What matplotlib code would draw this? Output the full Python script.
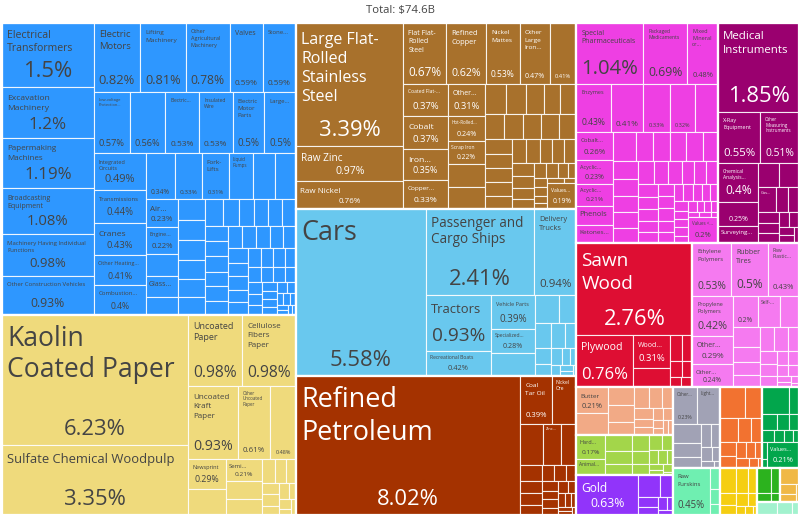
#!/usr/bin/env python3
"""
Treemap of exports by product (share of total, %), total $74.6B.
Sectors are laid out with the same squarify row logic as d3, products inside each sector.
"""
import math
import re
import matplotlib
matplotlib.use("Agg")
import matplotlib.pyplot as plt
from matplotlib.patches import Rectangle
from matplotlib.font_manager import FontProperties

FONT = ["Open Sans", "DejaVu Sans"]
plt.rcParams["font.family"] = FONT

title_text = "Total: $74.6B"

# ---- data: share of total exports (%) ----
# labels: None = no label drawn, "" = share only
machines_labels = ["Electrical Transformers", "Excavation Machinery", "Papermaking Machines",
                   "Broadcasting Equipment", "Machinery Having Individual Functions",
                   "Other Construction Vehicles", "Electric Motors", "Lifting Machinery",
                   "Other Agricultural Machinery", "Valves", "Stone...", "Low-voltage Protection...",
                   "", "Electric...", "Insulated Wire", "Electric Motor Parts", "Large...",
                   "Integrated Circuits", "Transmissions", "Cranes", "Other Heating...",
                   "Combustion...", "Office Machine...", "", "Fork-Lifts", "Liquid Pumps", "",
                   "Other...", "Air...", "Engine...", None, "Glass...",
                   None, None, None, None, None, None, None, None, "Liquid...", None, "Boiler..."]
machines_shares = [1.5, 1.2, 1.19, 1.08, 0.98, 0.93, 0.82, 0.81, 0.78, 0.59, 0.59, 0.57, 0.56,
                   0.53, 0.53, 0.5, 0.5, 0.49, 0.44, 0.43, 0.41, 0.4, 0.34, 0.33, 0.31, 0.29,
                   0.26, 0.25, 0.23, 0.22, 0.19, 0.17, 0.15, 0.145, 0.14, 0.14, 0.13, 0.13,
                   0.125, 0.115, 0.11, 0.1, 0.095]
machines_small = [0.095, 0.095, 0.09, 0.09, 0.09, 0.085, 0.085, 0.085, 0.08, 0.08, 0.08, 0.075,
                  0.075, 0.075, 0.07, 0.07, 0.065, 0.065, 0.06, 0.06, 0.055, 0.055, 0.05, 0.05,
                  0.045, 0.045, 0.04, 0.04, 0.035, 0.035, 0.03, 0.03, 0.03, 0.025, 0.025, 0.02,
                  0.02, 0.02, 0.015, 0.015, 0.01, 0.01]

paper_labels = ["Kaolin Coated Paper", "Sulfate Chemical Woodpulp", "Uncoated Paper",
                "Cellulose Fibers Paper", "Uncoated Kraft Paper", "Other Uncoated Paper",
                "Vegetable Parchment", "Newsprint", None, "Semi...", None, ""]
paper_shares = [6.23, 3.35, 0.98, 0.98, 0.93, 0.61, 0.48, 0.29, 0.25, 0.21, 0.17, 0.15]
paper_small = [0.08, 0.07, 0.06, 0.05, 0.05, 0.04, 0.04, 0.03, 0.03, 0.02, 0.02]

metals_labels = ["Large Flat-Rolled Stainless Steel", "Raw Zinc", "Raw Nickel",
                 "Flat Flat-Rolled Steel", "Refined Copper", "Nickel Mattes",
                 "Other Large Iron...", "", "Coated Flat-...", "Cobalt", "Iron...", "Copper...",
                 "Other...", "Hot-Rolled...", "Scrap Iron", None, None]
metals_shares = [3.39, 0.97, 0.76, 0.67, 0.62, 0.53, 0.47, 0.41, 0.37, 0.37, 0.35, 0.33,
                 0.31, 0.24, 0.22, 0.22, 0.21]
metals_small = [0.165, 0.155, 0.14, 0.13, 0.125, 0.12, 0.12, 0.115, 0.11, 0.11, 0.105, 0.1,
                0.1, 0.095, 0.09, 0.085, 0.085, 0.08, 0.075, 0.075, 0.07, 0.065, 0.06, 0.055,
                0.05, 0.045, 0.04, 0.035, 0.03, 0.03, 0.025, 0.02, 0.02, 0.015]
metals_last = ("Values...", 0.19)

transport_labels = ["Cars", "Passenger and Cargo Ships", "Delivery Trucks", "Tractors",
                    "Recreational Boats", "Vehicle Parts", "Specialized...", None]
transport_shares = [5.58, 2.41, 0.94, 0.93, 0.42, 0.39, 0.28, 0.26]
transport_small = [0.17, 0.12, 0.1, 0.09, 0.075, 0.065, 0.05, 0.045, 0.035, 0.03, 0.025, 0.02,
                   0.015, 0.01]

mineral_labels = ["Refined Petroleum", "Coal Tar Oil", "Nickel Ore", "", "Zinc..."]
mineral_shares = [8.02, 0.39, 0.3, 0.24, 0.18]
mineral_small = [0.165, 0.09, 0.07, 0.065, 0.055, 0.05, 0.05, 0.045, 0.04, 0.035, 0.035, 0.03,
                 0.03, 0.025, 0.025, 0.02, 0.02, 0.015, 0.015, 0.01]

chemicals_labels = ["Special Pharmaceuticals", "Packaged Medicaments", "Mixed Mineral or...",
                    "Enzymes", "", "", "", None, "Cobalt...", "Acyclic...", "Acyclic...",
                    "Phenols", "Ketones..."]
chemicals_shares = [1.04, 0.69, 0.48, 0.43, 0.41, 0.33, 0.32, 0.29, 0.26, 0.23, 0.21, 0.18, 0.17]
chemicals_small = [0.165, 0.13, 0.125, 0.12, 0.12, 0.115, 0.115, 0.11, 0.105, 0.1, 0.095,
                   0.09, 0.085, 0.08, 0.075, 0.07, 0.07, 0.065, 0.06, 0.06, 0.055, 0.055, 0.05,
                   0.05, 0.05, 0.045, 0.045, 0.04, 0.04, 0.04, 0.035, 0.035, 0.035, 0.03, 0.03,
                   0.03, 0.025, 0.025, 0.02, 0.02, 0.02, 0.015, 0.015, 0.01]
chemicals_last = ("Values <...", 0.2)

instruments_labels = ["Medical Instruments", "X-Ray Equipment", "Other Measuring Instruments",
                      "Chemical Analysis...", "", "Surveying...", None, None, "Gas..."]
instruments_shares = [1.85, 0.55, 0.51, 0.4, 0.25, 0.17, 0.13, 0.12, 0.11]
instruments_small = [0.08, 0.07, 0.06, 0.05, 0.05, 0.04, 0.04, 0.03, 0.03, 0.02]

wood_labels = ["Sawn Wood", "Plywood", "Wood...", None]
wood_shares = [2.76, 0.76, 0.31, 0.19]
wood_small = [0.08, 0.07, 0.05, 0.04, 0.03, 0.03]

plastics_labels = ["Ethylene Polymers", "Rubber Tires", "Raw Plastic...", "Propylene Polymers",
                   "Other...", "Other...", "", "Self-...", None, "", None, None]
plastics_shares = [0.53, 0.5, 0.43, 0.42, 0.29, 0.24, 0.2, 0.18, 0.15, 0.14, 0.11, 0.09]
plastics_small = [0.09, 0.085, 0.08, 0.07, 0.06, 0.05, 0.05, 0.04, 0.04, 0.03, 0.03, 0.02,
                  0.02, 0.015, 0.01]

animal_labels = ["Butter"]
animal_shares = [0.21]
animal_small = [0.18, 0.12, 0.11, 0.09, 0.08, 0.07, 0.06, 0.05, 0.04, 0.04, 0.03, 0.03, 0.02,
                0.02, 0.02, 0.02]

vegetable_labels = ["Hard...", "Animal..."]
vegetable_shares = [0.17, 0.12]
vegetable_small = [0.11, 0.09, 0.08, 0.07, 0.06, 0.05, 0.05, 0.04, 0.03, 0.03, 0.02, 0.02,
                   0.02, 0.02, 0.01]

precious_labels = ["Gold"]
precious_shares = [0.63]
precious_small = [0.12, 0.07, 0.05, 0.04, 0.03, 0.02, 0.02]

misc_labels = ["Other...", "Light..."]
misc_shares = [0.23, 0.21]
misc_small = [0.14, 0.1, 0.08, 0.06, 0.05, 0.04, 0.03, 0.02, 0.01]

stone_small = [0.2, 0.13, 0.11, 0.08, 0.07, 0.06, 0.05, 0.04, 0.04, 0.03, 0.03, 0.02, 0.01]

food_small = [0.18, 0.07, 0.06, 0.05, 0.04, 0.04, 0.03, 0.03, 0.02, 0.02, 0.01]
food_last = ("Values...", 0.21)

hides_labels = ["Raw Furskins"]
hides_shares = [0.45]
hides_small = [0.06, 0.04, 0.03]

textiles_small = [0.1, 0.08, 0.06, 0.05, 0.04, 0.04, 0.03, 0.02, 0.02, 0.01]
weapons_small = [0.09, 0.06, 0.03, 0.02]
footwear_small = [0.08, 0.04, 0.03, 0.015]
arts_small = [0.07, 0.05, 0.025]

palette = {
    "Machines": "#2e97ff", "Paper Goods": "#efda7c", "Metals": "#a8712c",
    "Transportation": "#69c8ee", "Mineral Products": "#a43200",
    "Chemical Products": "#ee3fe3", "Instruments": "#9a006f", "Wood Products": "#de0e33",
    "Plastics and Rubbers": "#f57af0", "Animal Products": "#f2aa86",
    "Vegetable Products": "#a3d64a", "Precious Metals": "#9134fa",
    "Miscellaneous": "#a1a2b5", "Stone and Glass": "#f27230", "Foodstuffs": "#02a64c",
    "Animal Hides": "#6fefb1", "Textiles": "#f5ce12", "Weapons": "#2cb21e",
    "Footwear and Headwear": "#f0b845", "Arts and Antiques": "#a2f2ce",
}

sectors = [
    ("Machines", machines_labels, machines_shares, machines_small, None),
    ("Paper Goods", paper_labels, paper_shares, paper_small, None),
    ("Metals", metals_labels, metals_shares, metals_small, metals_last),
    ("Transportation", transport_labels, transport_shares, transport_small, None),
    ("Mineral Products", mineral_labels, mineral_shares, mineral_small, None),
    ("Chemical Products", chemicals_labels, chemicals_shares, chemicals_small, chemicals_last),
    ("Instruments", instruments_labels, instruments_shares, instruments_small, None),
    ("Wood Products", wood_labels, wood_shares, wood_small, None),
    ("Plastics and Rubbers", plastics_labels, plastics_shares, plastics_small, None),
    ("Animal Products", animal_labels, animal_shares, animal_small, None),
    ("Vegetable Products", vegetable_labels, vegetable_shares, vegetable_small, None),
    ("Precious Metals", precious_labels, precious_shares, precious_small, None),
    ("Miscellaneous", misc_labels, misc_shares, misc_small, None),
    ("Stone and Glass", [], [], stone_small, None),
    ("Foodstuffs", [], [], food_small, food_last),
    ("Animal Hides", hides_labels, hides_shares, hides_small, None),
    ("Textiles", [], [], textiles_small, None),
    ("Weapons", [], [], weapons_small, None),
    ("Footwear and Headwear", [], [], footwear_small, None),
    ("Arts and Antiques", [], [], arts_small, None),
]

# treemap frame in pixels
X0, Y0, X1, Y1 = 2, 23, 799, 515
PHI = (1 + math.sqrt(5)) / 2
DARK = "#444444"
SLACK = 0.3  # extra room (in em) kept free on each text line


def squarify(values, x0, y0, x1, y1):
    """Row logic of d3.treemapSquarify with the golden ratio."""
    rects = []
    total = float(sum(values))
    n = len(values)
    i0 = 0
    while i0 < n:
        dx, dy = x1 - x0, y1 - y0
        i1 = i0
        s = values[i1]
        i1 += 1
        lo = hi = s
        alpha = max(dy / dx, dx / dy) / (total * PHI)
        beta = s * s * alpha
        best = max(hi / beta, beta / lo)
        while i1 < n:
            v = values[i1]
            s2 = s + v
            lo2, hi2 = min(lo, v), max(hi, v)
            beta = s2 * s2 * alpha
            r = max(hi2 / beta, beta / lo2)
            if r > best:
                break
            s, lo, hi, best = s2, lo2, hi2, r
            i1 += 1
        row = values[i0:i1]
        if dx < dy:
            yb = y0 + dy * s / total if i1 < n else y1
            xx = x0
            for v in row:
                xw = (x1 - x0) * v / s
                rects.append((xx, y0, xx + xw, yb))
                xx += xw
            y0 = yb
        else:
            xb = x0 + dx * s / total if i1 < n else x1
            yy = y0
            for v in row:
                yh = (y1 - y0) * v / s
                rects.append((x0, yy, xb, yy + yh))
                yy += yh
            x0 = xb
        total -= s
        i0 = i1
    return rects


fig = plt.figure(figsize=(8, 5.2), dpi=100)
ax = fig.add_axes([0, 0, 1, 1])
ax.set_xlim(0, 800)
ax.set_ylim(520, 0)
ax.axis("off")
renderer = fig.canvas.get_renderer()
prop_ref = FontProperties(family=FONT, size=72)  # 100 px at 100 dpi
_wcache = {}


def tw(s):
    """Text width in px for a 1 px font."""
    if s not in _wcache:
        w, _, _ = renderer.get_text_width_height_descent(s, prop_ref, ismath=False)
        _wcache[s] = w / 100.0
    return _wcache[s]


def split_words(name):
    words = []
    for w in name.split():
        words.extend(p for p in re.split(r"(?<=-)(?=[A-Za-z])", w) if p)
    return words


def wrap(words, fs, width):
    lines, cur = [], None
    for wd in words:
        if (tw(wd) + SLACK) * fs > width:
            return None
        if cur is None:
            cur = wd
            continue
        cand = cur + ("" if cur.endswith("-") else " ") + wd
        if (tw(cand) + SLACK) * fs <= width:
            cur = cand
        else:
            lines.append(cur)
            cur = wd
    lines.append(cur)
    return lines


def fit_text(name, w, h, fmax=27.0, fmin=4.0):
    if w <= 2 or h <= 2:
        return None
    words = split_words(name)
    sizes = [tw(wd) for wd in words]
    fs = fmax
    max_w = max(sizes) * fs
    text_area = sum(sizes) * fs * fs * 1.2 * (1.165 + w / h * 0.1)
    box_area = w * h
    if max_w > w or text_area > box_area:
        ratio = min(math.sqrt(box_area / text_area), w / max_w)
        fs = math.floor(fs * ratio * 2) / 2
    fs = max(fs, fmin)
    while fs >= fmin:
        lines = wrap(words, fs, w)
        if lines and len(lines) * fs * 1.2 <= h:
            return fs, lines
        fs -= 0.5
    return None


def fmt_share(v):
    return ("%.2f" % v).rstrip("0").rstrip(".") + "%"


def text_color(hex_color):
    r, g, b = (int(hex_color[i:i + 2], 16) for i in (1, 3, 5))
    return DARK if (0.299 * r + 0.587 * g + 0.114 * b) / 255 > 0.5 else "white"


def draw_label(label, share, x, y, w, h, color):
    if label is None:
        return
    m = min(w, h)
    pad = 5.0 if m >= 34 else max(1.5, 0.15 * m)
    name_h = h - 2 * pad
    if w >= 24.5 and h >= 21:
        sh = min(36.0, (h - 2 * pad) * 0.5)
        stxt = fmt_share(share)
        fs = min(22.0, (w - 10) / tw(stxt), sh / 1.2)
        if fs >= 3.5:
            ax.text(x + w / 2, y + h - pad - 0.23 * fs, stxt, ha="center", va="baseline",
                    fontsize=fs * 0.72, color=color, family=FONT)
            name_h = h - sh - 2 * pad
    if label:
        fit = fit_text(label, w - 2 * pad, name_h)
        if fit:
            fs, lines = fit
            for i, line in enumerate(lines):
                ax.text(x + pad, y + pad + 0.97 * fs + i * 1.2 * fs, line, ha="left",
                        va="baseline", fontsize=fs * 0.72, color=color, family=FONT)


# build the item lists of every sector
sector_items = []
for name, labels, shares, small, last in sectors:
    items = list(zip(labels, shares)) + [(None, v) for v in small]
    if last:
        items.append(last)
    sector_items.append((name, items))

sector_totals = [sum(v for _, v in items) for _, items in sector_items]
sector_rects = squarify(sector_totals, X0, Y0, X1, Y1)

for (name, items), (sx0, sy0, sx1, sy1) in zip(sector_items, sector_rects):
    color = palette[name]
    tc = text_color(color)
    rects = squarify([v for _, v in items], sx0, sy0, sx1, sy1)
    for (label, share), (rx0, ry0, rx1, ry1) in zip(items, rects):
        ax.add_patch(Rectangle((rx0, ry0), rx1 - rx0, ry1 - ry0, facecolor=color,
                               edgecolor=(1, 1, 1, 0.85), linewidth=0.8))
    for (label, share), (rx0, ry0, rx1, ry1) in zip(items, rects):
        draw_label(label, share, rx0, ry0, rx1 - rx0, ry1 - ry0, tc)
    ax.add_patch(Rectangle((sx0, sy0), sx1 - sx0, sy1 - sy0, fill=False,
                           edgecolor="white", linewidth=1.6))

ax.text(400, 11, title_text, ha="center", va="center", fontsize=8.2, color=DARK, family=FONT)

fig.savefig("out.png", dpi=100, facecolor="white")
